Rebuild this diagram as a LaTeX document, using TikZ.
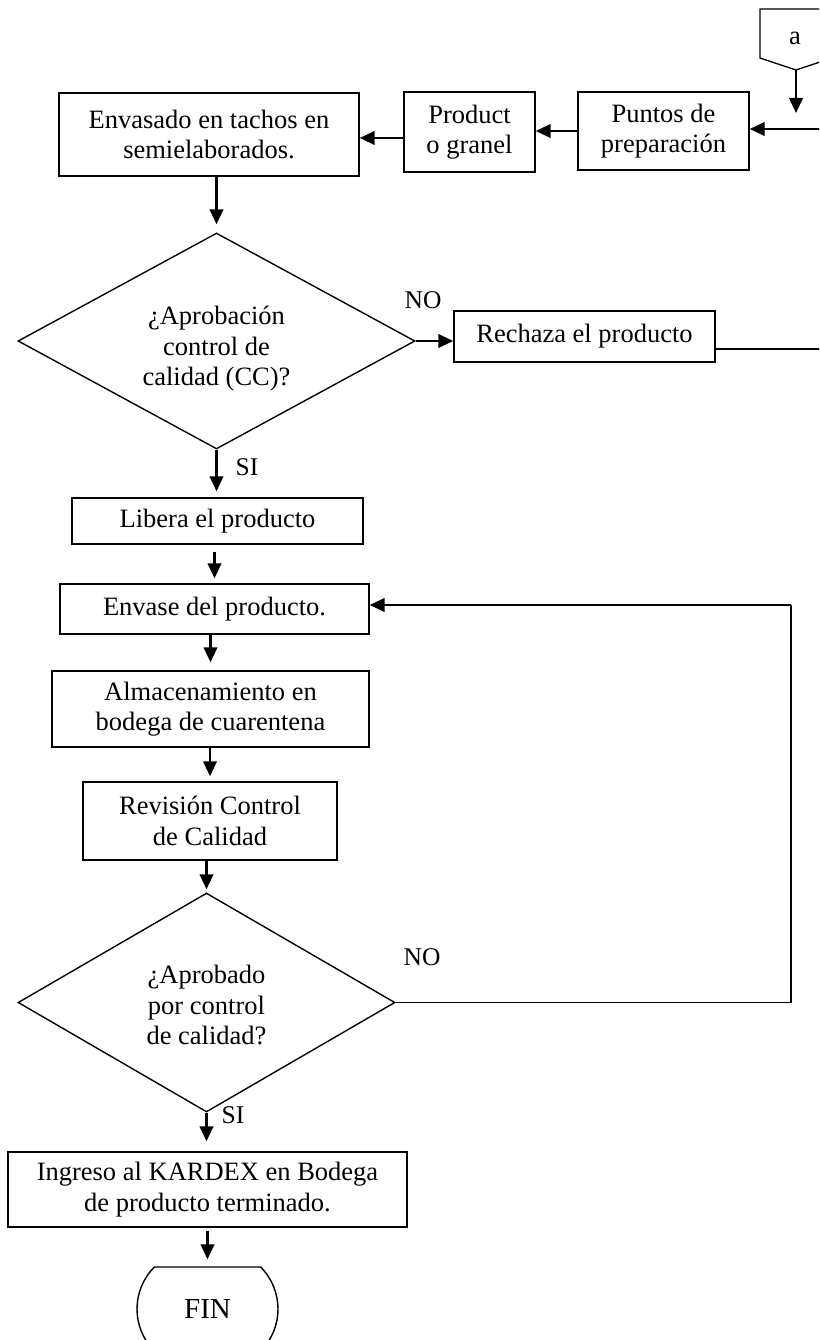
\documentclass[tikz,border=0pt]{standalone}
\usepackage{fontspec}
\setmainfont{Liberation Serif}
\usetikzlibrary{arrows.meta,shapes.geometric,shapes.misc}

\begin{document}
\begin{tikzpicture}[x=1pt,y=-1pt,
  txt/.style={font=\fontsize{26.5pt}{30.5pt}\selectfont, align=center, inner sep=0pt},
  box/.style={txt, draw, line width=1.4pt},
  decision/.style={diamond, draw, line width=1.4pt, inner sep=0pt},
  terminal/.style={rounded rectangle, rounded rectangle arc length=90, draw, line width=1.4pt,
    inner sep=0pt, font=\fontsize{29pt}{33pt}\selectfont},
  flow/.style={line width=2.4pt, -{Triangle[length=15pt,width=13.5pt]}},
  thin/.style={line width=1.2pt},
  tag/.style={font=\fontsize{25.5pt}{29pt}\selectfont, inner sep=0pt}]

\useasboundingbox (0,0) rectangle (819,1340);
\clip (0,0) rectangle (819,1340);

% off-page connector
\draw[line width=1.4pt] (760,9) -- (832,9) -- (832,58) -- (796,70) -- (760,58) -- cycle;
\node[txt] (a) at (795,38) {a};
\coordinate (atip) at (796,70);

% top row
\node[box, minimum width=171pt, minimum height=78pt] (puntos) at (663.5,131) {Puntos de\\preparación};
\node[box, minimum width=131pt, minimum height=80pt] (producto) at (469.5,132) {Product\\o granel};
\node[box, minimum width=300pt, minimum height=83pt] (envasado) at (209,134.5) {Envasado en tachos en\\semielaborados.};

% first decision
\node[decision, minimum width=397pt, minimum height=216pt] (d1) at (216.5,341) {};
\node[txt] (d1t) at (216.5,349) {¿Aprobación\\control de\\calidad (CC)?};
\node[box, minimum width=261pt, minimum height=51pt] (rechaza) at (584.5,336.5) {Rechaza el producto};
\node[tag] (no1) at (423,300) {NO};
\node[tag] (si1) at (247,467) {SI};

% middle column
\node[box, minimum width=291pt, minimum height=46pt] (libera) at (217.5,521) {Libera el producto};
\node[box, minimum width=309pt, minimum height=50pt] (envase) at (214.5,609) {Envase del producto.};
\node[box, minimum width=317pt, minimum height=76pt] (almacen) at (210.5,709) {Almacenamiento en\\bodega de cuarentena};
\node[box, minimum width=254pt, minimum height=78pt] (revision) at (210,821) {Revisión Control\\de Calidad};

% second decision
\node[decision, minimum width=377pt, minimum height=219pt] (d2) at (206.5,1002.5) {};
\node[txt] (d2t) at (206.5,1005) {¿Aprobado\\por control\\de calidad?};
\node[tag] (no2) at (422,957) {NO};
\node[tag] (si2) at (233,1115) {SI};

% end
\node[box, minimum width=399pt, minimum height=75pt] (ingreso) at (207.5,1189.5) {Ingreso al KARDEX en Bodega\\de producto terminado.};
\node[terminal, minimum width=141pt, minimum height=84pt] (fin) at (207.5,1309) {FIN};

% return paths and offset connector ends
\coordinate (rejR) at (828,129);
\coordinate (loopR) at (791,605);
\coordinate (prodW) at ([yshift=-6pt]producto.west);
\coordinate (rejE) at ([yshift=-12.5pt]rechaza.east);

% connectors
\draw[flow, shorten >=16pt] (atip) -- (atip |- rejR);
\draw[flow] (puntos.west) -- (producto.east |- puntos.west);
\draw[flow] (prodW) -- (envasado.east |- prodW);
\draw[flow, shorten >=8pt] (envasado.south -| d1.north) -- (d1.north);
\draw[flow] (d1.east) -- (rechaza.west |- d1.east);
\draw[thin] (rejE) -- (rejE -| rejR) -- (rejR);
\draw[flow] (rejR) -- (puntos.east |- rejR);
\draw[flow, shorten >=6pt] (d1.south) -- (d1.south |- libera.north);
\draw[flow, shorten <=7pt, shorten >=5pt] (libera.south -| envase.north) -- (envase.north);
\draw[flow, shorten >=8pt] (envase.south -| almacen.north) -- (almacen.north);
\draw[flow, shorten >=5pt] (almacen.south -| revision.north) -- (revision.north);
\draw[flow, shorten >=3pt] (revision.south -| d2.north) -- (d2.north);
\draw[thin] (d2.east) -- (d2.east -| loopR) -- (loopR);
\draw[flow] (loopR) -- (loopR -| envase.east);
\draw[flow, shorten >=10pt] (d2.south) -- (d2.south |- ingreso.north);
\draw[flow, shorten <=3pt, shorten >=7pt] (ingreso.south -| fin.north) -- (fin.north);

\end{tikzpicture}
\end{document}
